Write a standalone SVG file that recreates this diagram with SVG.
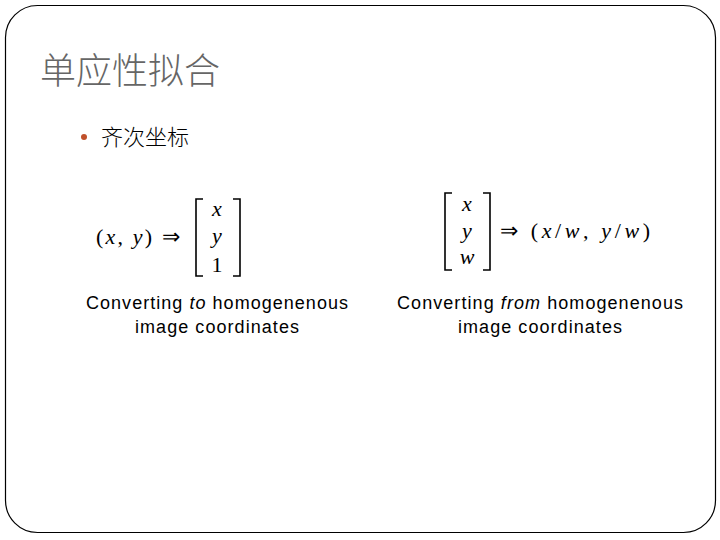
<svg xmlns="http://www.w3.org/2000/svg" width="720" height="540" viewBox="0 0 720 540">
<style>
.m{font-family:"Liberation Serif",serif;font-size:22px;fill:#000}
.i{font-style:italic}
.c{font-family:"Liberation Sans",Arial,sans-serif;font-size:18px;fill:#000;text-anchor:middle}
.br{fill:none;stroke:#000;stroke-width:1.6}
</style>
<rect width="720" height="540" fill="#fff"/>
<rect id="frame" x="5.5" y="5.5" width="710" height="527" rx="32" fill="none" stroke="#000" stroke-width="1.2"/>
<g id="title"><text x="40" y="84" font-family="'Noto Sans CJK SC',sans-serif" font-weight="300" font-size="36" fill="#666">单应性拟合</text></g>
<g id="bullet"><circle cx="84" cy="137" r="3" fill="#c0502a"/><text x="101" y="145" font-family="'Noto Sans CJK SC',sans-serif" font-weight="300" font-size="22" fill="#000">齐次坐标</text></g>
<g id="left">
<text x="96" y="244" class="m" textLength="84" lengthAdjust="spacing">(<tspan class="i">x</tspan>, <tspan class="i">y</tspan>) ⇒</text>
<path class="br" d="M203,199 H196 V276 H203 M233,199 H240 V276 H233"/>
<text x="217" y="216" class="m i" text-anchor="middle">x</text>
<text x="217" y="243" class="m i" text-anchor="middle">y</text>
<text x="217" y="272" class="m" text-anchor="middle">1</text>
<text x="217" y="309" class="c" textLength="262" lengthAdjust="spacing">Converting <tspan font-style="italic">to</tspan> homogenenous</text>
<text x="217" y="333" class="c" textLength="164" lengthAdjust="spacing">image coordinates</text>
</g>
<g id="right">
<path class="br" d="M452,193 H445 V270 H452 M483,193 H490 V270 H483"/>
<text x="467" y="211" class="m i" text-anchor="middle">x</text>
<text x="467" y="238" class="m i" text-anchor="middle">y</text>
<text x="467" y="264" class="m i" text-anchor="middle">w</text>
<text x="500" y="238" class="m" textLength="150" lengthAdjust="spacing">⇒ (<tspan class="i">x</tspan>/<tspan class="i">w</tspan>, <tspan class="i">y</tspan>/<tspan class="i">w</tspan>)</text>
<text x="540" y="309" class="c" textLength="286" lengthAdjust="spacing">Converting <tspan font-style="italic">from</tspan> homogenenous</text>
<text x="540" y="333" class="c" textLength="164" lengthAdjust="spacing">image coordinates</text>
</g>
</svg>
